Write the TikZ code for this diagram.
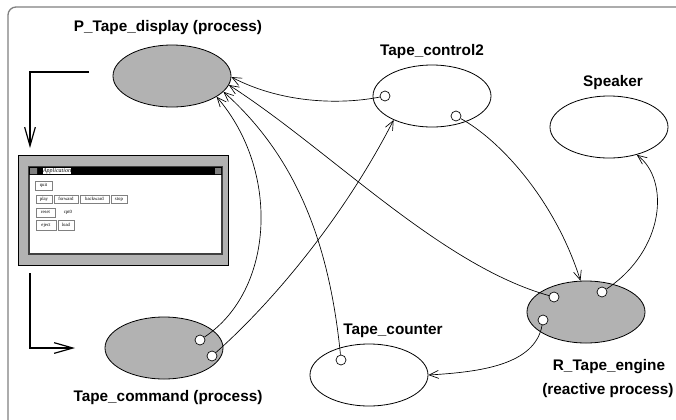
\documentclass[tikz,border=0pt]{standalone}
\usepackage{fontspec}
\setmainfont{Liberation Sans}
\newfontfamily\winfont{Liberation Serif}
\usetikzlibrary{shapes.geometric, arrows.meta}

\definecolor{procgray}{gray}{0.7}
\tikzset{
	proc/.style={ellipse, draw, line width=0.6pt, minimum width=88.5pt, minimum height=46.5pt},
	port/.style={circle, draw, fill=white, line width=0.5pt, minimum size=7.5pt, inner sep=0pt},
	procname/.style={font=\bfseries\fontsize{11.5}{14}\selectfont, inner sep=0pt},
	btn/.style={draw=gray, line width=0.3pt, font=\winfont\fontsize{3.6}{4}\selectfont, inner sep=0pt, text height=2.5pt, text depth=0.8pt, minimum height=6pt},
	flow/.style={line width=0.5pt, ->},
	bigflow/.style={line width=0.9pt, -{Straight Barb[length=14pt,width=8pt]}},
	>={Straight Barb[length=7pt,width=6pt]}
}

\begin{document}
\begin{tikzpicture}[x=0.75pt, y=-0.75pt]
	\useasboundingbox (0,0) rectangle (676,419);
	\draw[gray, line width=1pt, rounded corners=6pt] (8,425) -- (8,7) -- (680,7);

	% processes
	\node[proc, fill=procgray] (disp) at (172,76) {};
	\node[proc] (ctrl) at (432,96) {};
	\node[proc] (spk) at (609,127) {};
	\node[proc, fill=procgray] (cmd) at (164,348) {};
	\node[proc] (cnt) at (369,375) {};
	\node[proc, fill=procgray] (eng) at (586,312) {};

	\node[procname] (dispname) at (168,28) {P\_Tape\_display (process)};
	\node[procname] (ctrlname) at (432,52) {Tape\_control2};
	\node[procname] (spkname) at (613,83) {Speaker};
	\node[procname] (cmdname) at (168,398) {Tape\_command (process)};
	\node[procname] (cntname) at (393,331) {Tape\_counter};
	\node[procname] (engname) at (609,367) {R\_Tape\_engine};
	\node[procname] (engname2) at (608,391) {(reactive process)};

	% ports
	\node[port] (ctrlA) at (385,96) {};
	\node[port] (ctrlB) at (456,116) {};
	\node[port] (cmdA) at (200,340) {};
	\node[port] (cmdB) at (212,356) {};
	\node[port] (cntA) at (341,360) {};
	\node[port] (engA) at (554,297) {};
	\node[port] (engB) at (602,292) {};
	\node[port] (engC) at (543,320) {};

	% window
	\node[draw, fill=procgray, line width=0.6pt, minimum width=157.5pt, minimum height=82.5pt] (win) at (123,210) {};
	\draw[fill=white, draw=black!75, line width=1.2pt] (29,167) rectangle (222,254);
	\fill[black] (29,167) rectangle (222,175);
	\fill[gray] (30,168) rectangle (37,174) (215,168) rectangle (221,174);
	\node[fill=white, inner sep=0.3pt, font=\winfont\itshape\fontsize{4.5}{5}\selectfont] (wintitle) at (57,171) {Application};
	\node[btn, minimum width=12.75pt, minimum height=6.75pt] (quit) at (43.5,185.5) {quit};
	\node[btn, minimum width=12pt] (play) at (44,199) {play};
	\node[btn, minimum width=18pt] (fwd) at (66,199) {forward};
	\node[btn, minimum width=21.75pt] (bwd) at (94.5,199) {backward};
	\node[btn, minimum width=12pt] (stop) at (119,199) {stop};
	\node[btn, minimum width=14.25pt, minimum height=6.75pt] (reset) at (45.5,212.5) {reset};
	\node[btn, draw=none] (cpt) at (68,212.5) {cpt0};
	\node[btn, minimum width=15pt, minimum height=7.5pt] (eject) at (46,225) {eject};
	\node[btn, minimum width=12pt, minimum height=7.5pt] (load) at (66,225) {load};

	\coordinate (dispout) at (89,72);
	\coordinate (winin) at (30,148);
	\coordinate (winout) at (30,273);
	\coordinate (cmdin) at (75,348);
	\draw[bigflow] (dispout) -| (winin);
	\draw[bigflow] (winout) |- (cmdin);

	% connections
	\draw[flow] (ctrlA) .. controls (345,104) and (285,105) .. (disp.-1);
	\draw[flow] (engA) .. controls (440,265) and (330,150) .. (disp.-9);
	\draw[flow] (cntA) .. controls (330,250) and (300,160) .. (disp.-17);
	\draw[flow] (cmdA) .. controls (275,290) and (280,170) .. (disp.-25);
	\draw[flow] (cmdB) .. controls (275,300) and (345,215) .. (ctrl.212);
	\draw[flow] (ctrlB) .. controls (500,140) and (555,200) .. (eng.100);
	\draw[flow] (engB) .. controls (665,250) and (670,180) .. (spk.-45);
	\draw[flow] (engC) .. controls (535,365) and (480,372) .. (cnt.east);
\end{tikzpicture}
\end{document}
